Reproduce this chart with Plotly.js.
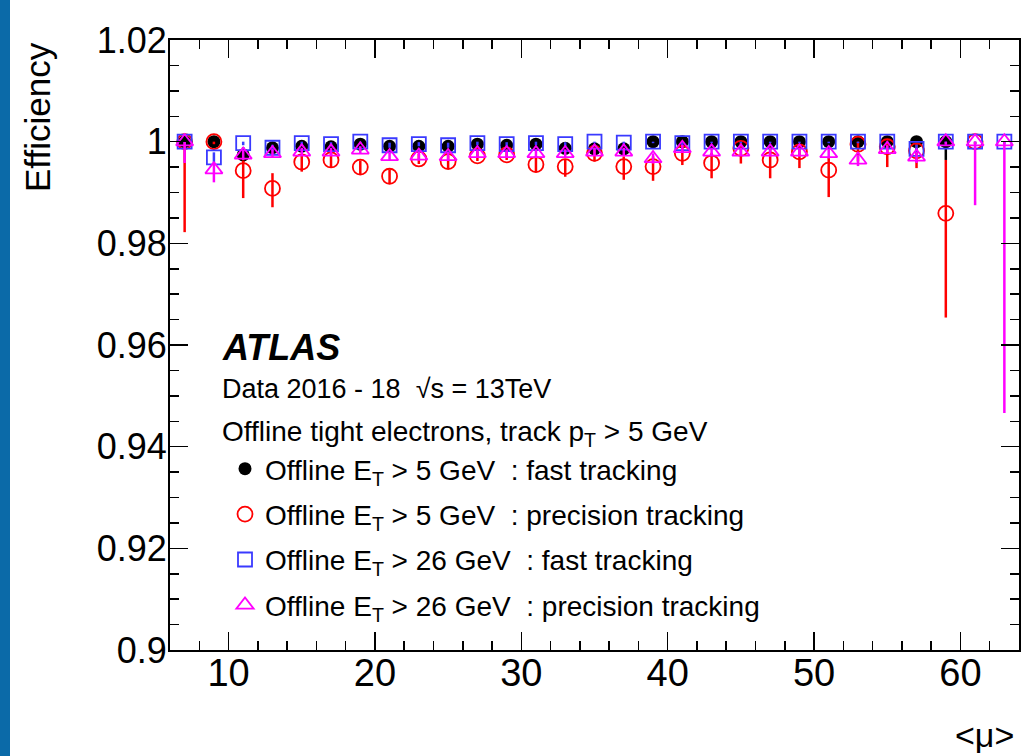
<!DOCTYPE html>
<html>
<head>
<meta charset="utf-8">
<script src="https://cdn.plot.ly/plotly-3.0.1.min.js"></script>
<style>html,body{margin:0;padding:0;background:#fff;}#chart{width:1022px;height:756px;}</style>
</head>
<body>
<div id="chart"></div>
<script>
// <mu> bin centres
const muAll = [7,9,11,13,15,17,19,21,23,25,27,29,31,33,35,37,39,41,43,45,47,49,51,53,55,57,59,61,63];

// Offline ET > 5 GeV : fast tracking
const fast5 = [1.0,1.0,0.9974,0.9988,0.9991,0.9990,0.9995,0.9991,0.9991,0.9991,0.9995,0.9993,0.9995,0.9987,0.9986,0.9986,1.0,1.0,1.0,1.0,1.0,1.0,1.0,1.0,1.0,1.0,1.0];
const fast5ErrUp = [0,0,0.0015,0.0008,0.0007,0.0008,0.0005,0.0007,0.0007,0.0007,0.0005,0.0006,0.0005,0.0009,0.001,0.001,0,0,0,0,0,0,0,0,0,0,0];
const fast5ErrDn = [0.0005,0.0005,0.0015,0.0008,0.0007,0.0008,0.0006,0.0007,0.0007,0.0007,0.0006,0.0006,0.0006,0.0009,0.001,0.001,0.0006,0.0006,0.0007,0.0008,0.0008,0.0008,0.001,0.001,0.001,0.001,0.0036];

// Offline ET > 5 GeV : precision tracking
const prec5 = [1.0,1.0,0.9943,0.9908,0.9960,0.9964,0.9950,0.9932,0.9966,0.9961,0.9972,0.9974,0.9955,0.9951,0.9977,0.9951,0.9951,0.9977,0.9958,0.9987,0.9964,0.9980,0.9944,0.9995,0.9990,0.9982,0.9859,1.0];
const prec5ErrUp = [0,0,0.002,0.003,0.0015,0.0012,0.0013,0.0013,0.001,0.0011,0.0009,0.0009,0.0013,0.0015,0.0012,0.002,0.002,0.0015,0.002,0.0012,0.0025,0.0015,0.0025,0.0005,0.001,0.0015,0.0105,0];
const prec5ErrDn = [0.0178,0.0005,0.0054,0.0037,0.0019,0.0015,0.0015,0.0014,0.001,0.0013,0.001,0.001,0.0015,0.002,0.0016,0.0026,0.0028,0.0023,0.003,0.003,0.0036,0.0032,0.0053,0.0034,0.004,0.0034,0.0205,0.0005];

// Offline ET > 26 GeV : fast tracking
const fast26 = [1.0,0.9969,0.9997,0.9988,0.9997,0.9995,1.0,0.9993,0.9995,0.9993,0.9997,0.9995,0.9997,0.9995,1.0,0.9998,1.0,0.9997,1.0,1.0,1.0,1.0,1.0,1.0,1.0,0.9986,1.0,1.0,1.0];
const fast26ErrUp = [0,0.001,0.0003,0.0006,0.0003,0.0004,0,0.0005,0.0004,0.0005,0.0003,0.0004,0.0003,0.0004,0,0.0002,0,0.0003,0,0,0,0,0,0,0,0.0008,0,0,0];
const fast26ErrDn = [0.0004,0.001,0.0004,0.0006,0.0004,0.0004,0.0003,0.0005,0.0004,0.0005,0.0004,0.0004,0.0004,0.0004,0.0003,0.0004,0.0003,0.0004,0.0003,0.0003,0.0003,0.0003,0.0003,0.0003,0.0003,0.0008,0.0004,0.0005,0.0005];

// Offline ET > 26 GeV : precision tracking
const prec26 = [1.0,0.9945,0.9974,0.9977,0.9980,0.9980,0.9984,0.9971,0.9972,0.9971,0.9977,0.9977,0.9977,0.9977,0.9980,0.9980,0.9967,0.9987,0.9980,0.9980,0.9980,0.9980,0.9977,0.9964,0.9985,0.9970,1.0,1.0,1.0];
const prec26ErrUp = [0,0.0015,0.001,0.0008,0.0008,0.0008,0.0007,0.0009,0.0009,0.0009,0.0008,0.0008,0.0008,0.0008,0.0008,0.0008,0.001,0.0007,0.0008,0.0008,0.0008,0.0008,0.0009,0.001,0.0008,0.001,0,0,0];
const prec26ErrDn = [0.0042,0.0025,0.001,0.0008,0.0008,0.0008,0.0007,0.0009,0.0009,0.0009,0.0008,0.0008,0.0008,0.0008,0.0008,0.0008,0.001,0.0008,0.0008,0.0008,0.0009,0.0009,0.001,0.0012,0.0009,0.0012,0.0006,0.0125,0.0534];

const legendNames = [
  "Offline E<sub>T</sub> > 5 GeV \u00a0: fast tracking",
  "Offline E<sub>T</sub> > 5 GeV \u00a0: precision tracking",
  "Offline E<sub>T</sub> > 26 GeV \u00a0: fast tracking",
  "Offline E<sub>T</sub> > 26 GeV \u00a0: precision tracking"
];

const yTickVals = [0.9,0.92,0.94,0.96,0.98,1.0,1.02];
const yTickText = ["0.9","0.92","0.94","0.96","0.98","1","1.02"];

const FONT = "Liberation Sans, Arial, Helvetica, sans-serif";

function series(x, y, up, dn, name, color, symbol, size, lw, group) {
  return {
    type: "scatter", mode: "markers", x: x, y: y, name: name, legendgroup: group,
    marker: {color: color, symbol: symbol, size: size, line: {color: color, width: lw}},
    error_y: {type: "data", symmetric: false, array: up, arrayminus: dn, color: color, thickness: 2.5, width: 0},
    hoverinfo: "x+y"
  };
}

const traces = [
  series(muAll.slice(0, fast5.length), fast5, fast5ErrUp, fast5ErrDn, legendNames[0], "#000000", "circle", 13, 0, "a"),
  series(muAll.slice(0, prec5.length), prec5, prec5ErrUp, prec5ErrDn, legendNames[1], "#ff0000", "circle-open", 15, 1.8, "b"),
  series(muAll.slice(0, fast26.length), fast26, fast26ErrUp, fast26ErrDn, legendNames[2], "#3a3aff", "square-open", 14, 1.8, "c"),
  series(muAll.slice(0, prec26.length), prec26, prec26ErrUp, prec26ErrDn, legendNames[3], "#ff00ff", "triangle-up-open", 15, 1.8, "d")
];

const W = 1022, H = 756, ML = 170, MR = 3, MT = 40, MB = 106;
const PW = W - ML - MR, PH = H - MT - MB;
const px = v => (v - ML) / PW;          // page x px -> paper
const py = v => (H - MB - v) / PH;      // page y px -> paper

const layout = {
  width: W, height: H,
  margin: {l: ML, r: MR, t: MT, b: MB, pad: 0},
  paper_bgcolor: "#ffffff", plot_bgcolor: "#ffffff",
  font: {family: FONT, color: "#000000", size: 28},
  showlegend: true,
  legend: {
    x: px(225), y: py(444), xanchor: "left", yanchor: "top",
    bgcolor: "rgba(0,0,0,0)", borderwidth: 0,
    font: {family: FONT, size: 28, color: "#000000"},
    traceorder: "grouped", tracegroupgap: 6, itemwidth: 30
  },
  xaxis: {
    range: [6, 64], tick0: 0, dtick: 10,
    ticks: "inside", ticklen: 18, tickwidth: 1.5, tickcolor: "#000",
    minor: {dtick: 2, ticks: "inside", ticklen: 9, tickwidth: 1.5, tickcolor: "#000", showgrid: false},
    showline: true, linecolor: "#000", linewidth: 2, mirror: "ticks",
    showgrid: false, zeroline: false, ticklabelstandoff: -12,
    tickfont: {family: FONT, size: 38, color: "#000"}
  },
  yaxis: {
    range: [0.9, 1.02], tickmode: "array", tickvals: yTickVals, ticktext: yTickText,
    ticks: "inside", ticklen: 18, tickwidth: 1.5, tickcolor: "#000",
    minor: {dtick: 0.005, ticks: "inside", ticklen: 9, tickwidth: 1.5, tickcolor: "#000", showgrid: false},
    showline: true, linecolor: "#000", linewidth: 2, mirror: "ticks",
    showgrid: false, zeroline: false, ticklabelstandoff: -6,
    tickfont: {family: FONT, size: 36, color: "#000"}
  },
  shapes: [
    {type: "rect", xref: "paper", yref: "paper", x0: px(0), x1: px(10), y0: py(H), y1: py(0),
     fillcolor: "#0b6aa8", line: {width: 0}, layer: "below"}
  ],
  annotations: [
    {xref: "paper", yref: "paper", x: px(37), y: 1, xanchor: "center", yanchor: "top", textangle: -90,
     text: "Efficiency", showarrow: false, font: {family: FONT, size: 35, color: "#000"}},
    {xref: "paper", yref: "paper", x: px(1016), y: py(735), xanchor: "right", yanchor: "middle",
     text: "<\u03bc>", showarrow: false, font: {family: FONT, size: 34, color: "#000"}},
    {xref: "paper", yref: "paper", x: px(220), y: py(347), xanchor: "left", yanchor: "middle",
     text: "<b><i>ATLAS</i></b>", showarrow: false, font: {family: FONT, size: 36, color: "#000"}},
    {xref: "paper", yref: "paper", x: px(220), y: py(389), xanchor: "left", yanchor: "middle",
     text: "Data 2016 - 18 \u00a0\u221as = 13TeV", showarrow: false, font: {family: FONT, size: 27, color: "#000"}},
    {xref: "paper", yref: "paper", x: px(220), y: py(433), xanchor: "left", yanchor: "middle",
     text: "Offline tight electrons, track p<sub>T</sub> > 5 GeV", showarrow: false, font: {family: FONT, size: 28, color: "#000"}}
  ]
};

Plotly.newPlot("chart", traces, layout, {displayModeBar: false, staticPlot: true});
</script>
</body>
</html>
